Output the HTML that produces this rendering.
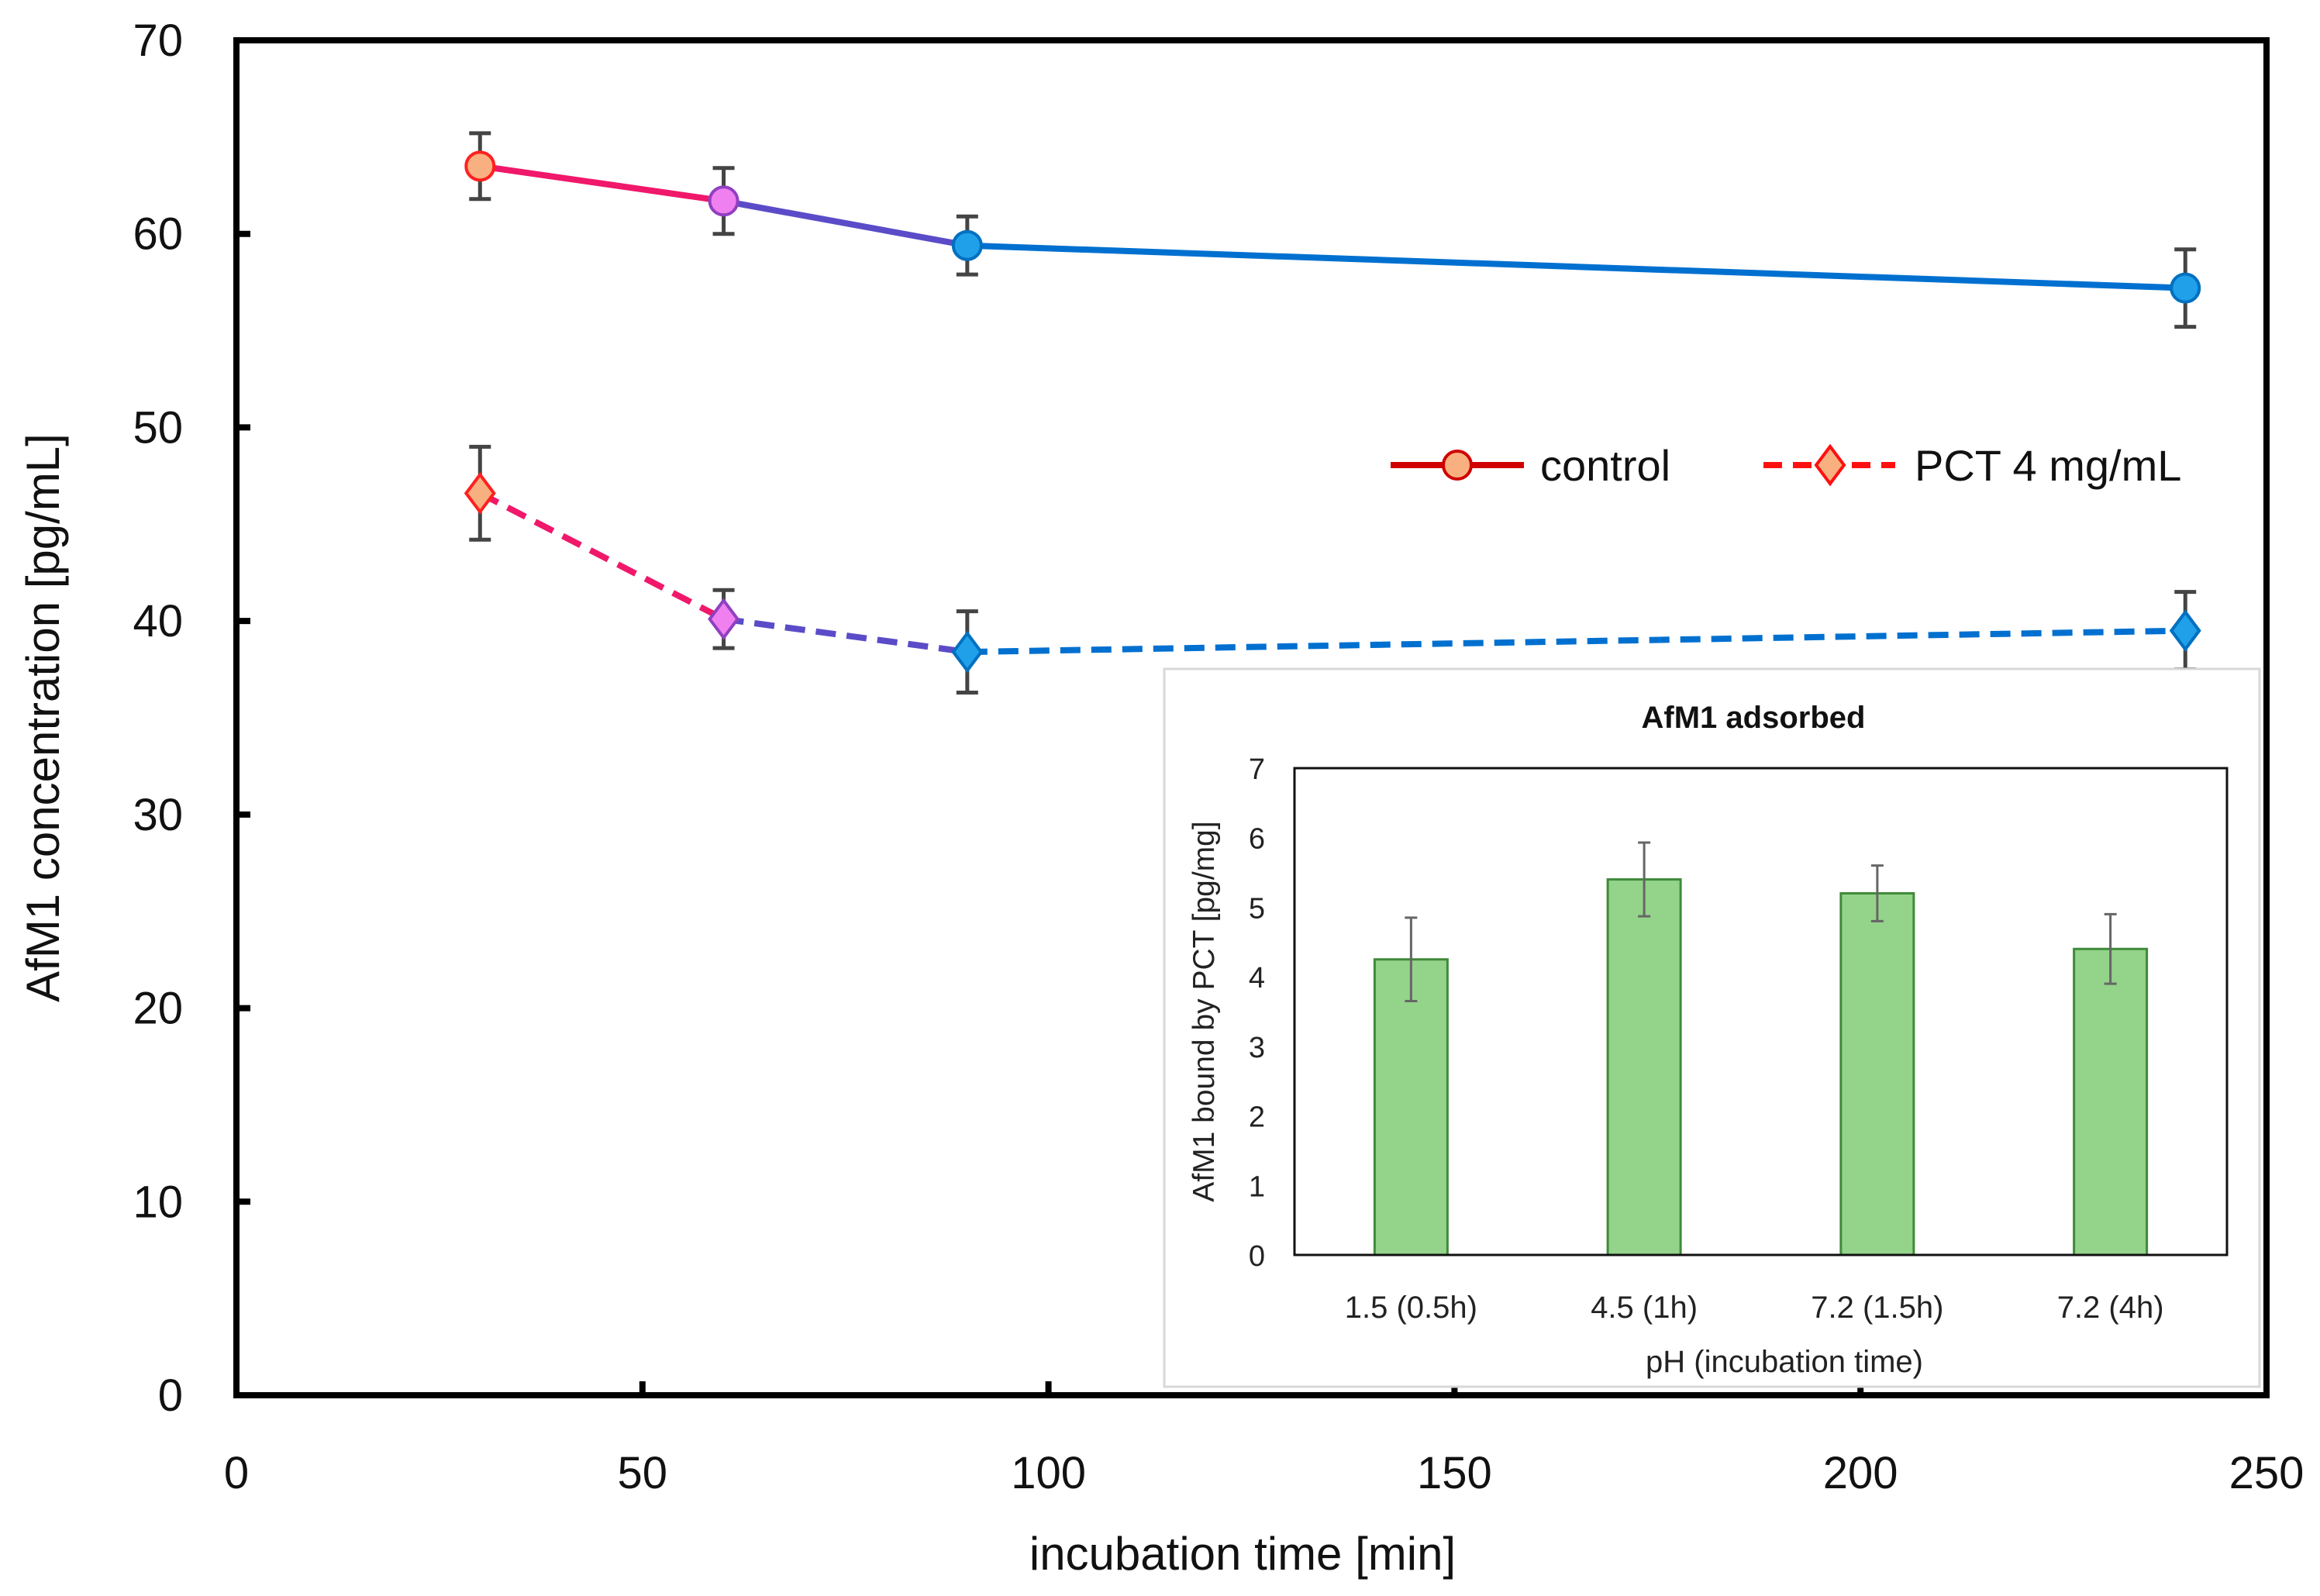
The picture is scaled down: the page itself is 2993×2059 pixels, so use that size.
<!DOCTYPE html>
<html><head><meta charset="utf-8"><style>
html,body{margin:0;padding:0;background:#fff;}
svg{display:block;font-family:"Liberation Sans",sans-serif;}
</style></head><body>
<svg id="chart" width="2993" height="2059" viewBox="0 0 2993 2059" xmlns="http://www.w3.org/2000/svg">
<g id="main"></g>
<g id="inset"></g>
</svg>
<script>
const xTicks=[0,50,100,150,200,250];
const yTicks=[0,10,20,30,40,50,60,70];
const times=[30,60,90,240];
const controlVals=[63.5,61.7,59.4,57.2];
const controlErr=[1.7,1.7,1.5,2.0];
const pctVals=[46.6,40.1,38.4,39.5];
const pctErr=[2.4,1.5,2.1,2.0];
const insetCats=["1.5 (0.5h)","4.5 (1h)","7.2 (1.5h)","7.2 (4h)"];
const insetVals=[4.25,5.4,5.2,4.4];
const insetErr=[0.6,0.53,0.4,0.5];
const insetTicks=[0,1,2,3,4,5,6,7];

const NS="http://www.w3.org/2000/svg";
function mk(parent,tag,attrs,text){const e=document.createElementNS(NS,tag);for(const k in attrs)e.setAttribute(k,attrs[k]);if(text!==undefined)e.textContent=text;parent.appendChild(e);return e;}
const L=305,R=2924,T=52,B=1800;
const X=v=>L+(R-L)*v/250;
const Y=v=>B-(B-T)*v/70;
const g=document.getElementById('main');
let fr=mk(g,'rect',{x:L,y:T,width:R-L,height:B-T,fill:'none',stroke:'#000','stroke-width':8});

yTicks.forEach(v=>{
 let t=mk(g,'line',{x1:L,x2:L+18,y1:Y(v),y2:Y(v),stroke:'#000','stroke-width':8});
 
 let l=mk(g,'text',{x:236,y:Y(v)+20,'font-size':58,'text-anchor':'end',fill:'#111'},v);
 
});
xTicks.forEach(v=>{
 let t=mk(g,'line',{x1:X(v),x2:X(v),y1:B,y2:B-18,stroke:'#000','stroke-width':8});
 
 let l=mk(g,'text',{x:X(v),y:1920,'font-size':58,'text-anchor':'middle',fill:'#111'},v);
 
});
let xt=mk(g,'text',{x:1603,y:2025,'font-size':60,'text-anchor':'middle',fill:'#111'},'incubation time [min]');

let yt=mk(g,'text',{x:0,y:0,'font-size':60,'text-anchor':'middle',fill:'#111',transform:'translate(76,926) rotate(-90)'},'AfM1 concentration [pg/mL]');


const fills=['#f8b080','#f080f0','#20a0e8','#20a0e8'];
const strokes=['#ff2020','#9040c0','#0070c0','#0070c0'];
const segCols=['#f0186a','#5a4cc8','#0070d0'];
function series(vals,errs,dashed,shape,name){
 const pts=vals.map((v,i)=>[X(times[i]),Y(v)]);
 for(let i=0;i<pts.length-1;i++){
  let ln=mk(g,'line',{x1:pts[i][0],y1:pts[i][1],x2:pts[i+1][0],y2:pts[i+1][1],stroke:segCols[i],'stroke-width':8,'stroke-dasharray':dashed?'26 14':'none'});
  
 }
 vals.forEach((v,i)=>{
  const x=pts[i][0],e=errs[i];
  let eb=mk(g,'path',{d:`M${x},${Y(v+e)}V${Y(v-e)}M${x-14},${Y(v+e)}h28M${x-14},${Y(v-e)}h28`,stroke:'#444','stroke-width':5,fill:'none'});
  
  let m;
  if(shape==='circle') m=mk(g,'circle',{cx:x,cy:pts[i][1],r:18,fill:fills[i],stroke:strokes[i],'stroke-width':4});
  else {const y=pts[i][1];m=mk(g,'path',{d:`M${x},${y-24}L${x+18},${y}L${x},${y+24}L${x-18},${y}Z`,fill:fills[i],stroke:strokes[i],'stroke-width':4});}
  
 });
}
series(controlVals,controlErr,false,'circle','control');
series(pctVals,pctErr,true,'diamond','pct');

const lg=mk(g,'g',{});

mk(lg,'line',{x1:1794,x2:1966,y1:600,y2:600,stroke:'#d00000','stroke-width':8});
mk(lg,'circle',{cx:1880,cy:600,r:18,fill:'#f8b080',stroke:'#d00000','stroke-width':4});
let lt1=mk(lg,'text',{x:1987,y:620,'font-size':56,fill:'#111'},'control');

mk(lg,'line',{x1:2275,x2:2445,y1:600,y2:600,stroke:'#ff1010','stroke-width':8,'stroke-dasharray':'24 14'});
mk(lg,'path',{d:'M2361,576L2379,600L2361,624L2343,600Z',fill:'#f8b080',stroke:'#ff1010','stroke-width':4});
let lt2=mk(lg,'text',{x:2470,y:620,'font-size':56,fill:'#111'},'PCT 4 mg/mL');


const ig=document.getElementById('inset');
let ib=mk(ig,'rect',{x:1502,y:863,width:1413,height:926,fill:'#fff',stroke:'#d8d8d8','stroke-width':3});

const iL=1670,iR=2873,iT=991,iB=1619;
const IY=v=>iB-(iB-iT)*v/7;
const step=(iR-iL)/insetCats.length;
const IX=i=>iL+step*(i+0.5);
insetVals.forEach((v,i)=>{
 let b=mk(ig,'rect',{x:IX(i)-47,y:IY(v),width:94,height:iB-IY(v),fill:'#94d38a',stroke:'#3f8a3a','stroke-width':3});
 
 const e=insetErr[i],x=IX(i);
 let eb=mk(ig,'path',{d:`M${x},${IY(v+e)}V${IY(v-e)}M${x-8},${IY(v+e)}h16M${x-8},${IY(v-e)}h16`,stroke:'#666','stroke-width':3,fill:'none'});
 
 let cl=mk(ig,'text',{x:x,y:1700,'font-size':40,'text-anchor':'middle',fill:'#222'},insetCats[i]);
 
});
let ifr=mk(ig,'rect',{x:iL,y:iT,width:iR-iL,height:iB-iT,fill:'none',stroke:'#111','stroke-width':3});

insetTicks.forEach(v=>{
 let l=mk(ig,'text',{x:1632,y:IY(v)+14,'font-size':38,'text-anchor':'end',fill:'#222'},v);
 
});
let it=mk(ig,'text',{x:2262,y:939,'font-size':40,'font-weight':'bold','text-anchor':'middle',fill:'#111'},'AfM1 adsorbed');

let ixt=mk(ig,'text',{x:2302,y:1770,'font-size':40,'text-anchor':'middle',fill:'#222'},'pH (incubation time)');

let iyt=mk(ig,'text',{x:0,y:0,'font-size':39,'text-anchor':'middle',fill:'#222',transform:'translate(1566,1305) rotate(-90)'},'AfM1 bound by PCT [pg/mg]');

</script>
</body></html>
